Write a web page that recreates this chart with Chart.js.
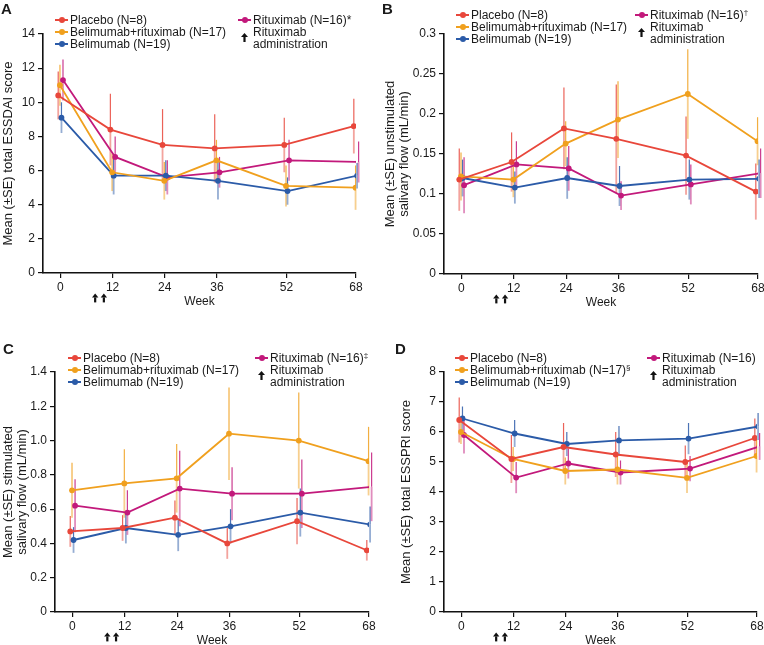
<!DOCTYPE html>
<html>
<head>
<meta charset="utf-8">
<script src="https://cdn.jsdelivr.net/npm/chart.js@4/dist/chart.umd.min.js"></script>
<style>
  body { margin: 0; width: 764px; height: 645px; overflow: hidden; background: #fff; position: relative;
         font-family: "Liberation Sans", Arial, sans-serif; color: #1a1a1a; }
  canvas { position: absolute; }
  .lbl { position: absolute; font-size: 12px; line-height: 14px; white-space: nowrap; }
  .lbl sup { font-size: 8px; line-height: 0; vertical-align: 4px; }
  .letter { position: absolute; font-weight: bold; font-size: 15px; line-height: 16px; }
  .mk { position: absolute; height: 2px; width: 13px; }
  .dot { position: absolute; width: 6px; height: 6px; border-radius: 50%; }
</style>
</head>
<body>
<script>
const weeks = [0, 12, 24, 36, 52, 68];
const arrowWeeks = [8, 10];
const colors = ['#e8473b', '#f0a01e', '#2b5ba8', '#c2197b'];
const jitter = [-0.5, -0.1, 0.25, 0.6];

// order: placebo, belimumab+rituximab, belimumab, rituximab
const essdaiMean = [
  [10.4, 8.4, 7.5, 7.3, 7.5, 8.6],
  [11.0, 5.9, 5.4, 6.6, 5.1, 5.0],
  [9.1, 5.7, 5.7, 5.4, 4.8, 5.7],
  [11.3, 6.8, 5.6, 5.9, 6.6, 6.5]
];
const essdaiSE = [
  [1.4, 2.1, 2.1, 2.0, 1.6, 1.6],
  [1.2, 1.1, 1.1, 1.2, 1.2, 1.3],
  [0.9, 1.1, 0.9, 1.1, 0.8, 0.75],
  [1.2, 1.2, 1.0, 0.9, 1.2, 1.2]
];
const unstimMean = [
  [0.118, 0.140, 0.182, 0.169, 0.148, 0.103],
  [0.122, 0.118, 0.163, 0.193, 0.225, 0.166],
  [0.120, 0.108, 0.120, 0.110, 0.118, 0.119],
  [0.111, 0.137, 0.132, 0.098, 0.112, 0.126]
];
const unstimSE = [
  [0.039, 0.037, 0.051, 0.068, 0.049, 0.035],
  [0.030, 0.022, 0.028, 0.048, 0.056, 0.030],
  [0.023, 0.020, 0.026, 0.025, 0.025, 0.024],
  [0.035, 0.029, 0.028, 0.018, 0.025, 0.031]
];
const stimMean = [
  [0.47, 0.49, 0.55, 0.40, 0.53, 0.36],
  [0.71, 0.75, 0.78, 1.04, 1.00, 0.88],
  [0.42, 0.49, 0.45, 0.50, 0.58, 0.51],
  [0.62, 0.58, 0.72, 0.69, 0.69, 0.73]
];
const stimSE = [
  [0.09, 0.075, 0.10, 0.09, 0.135, 0.06],
  [0.16, 0.20, 0.20, 0.27, 0.28, 0.20],
  [0.075, 0.09, 0.095, 0.10, 0.14, 0.105],
  [0.155, 0.13, 0.22, 0.155, 0.20, 0.20]
];
const esspriMean = [
  [6.4, 5.1, 5.5, 5.25, 5.0, 5.8],
  [6.0, 5.1, 4.7, 4.75, 4.47, 5.2],
  [6.45, 5.95, 5.6, 5.72, 5.78, 6.18],
  [5.9, 4.48, 4.95, 4.65, 4.78, 5.52]
];
const esspriSE = [
  [0.75, 0.8, 0.8, 0.75, 0.55, 0.65],
  [0.4, 0.4, 0.45, 0.5, 0.5, 0.55],
  [0.4, 0.45, 0.4, 0.48, 0.52, 0.45],
  [0.62, 0.52, 0.5, 0.4, 0.42, 0.45]
];

const legendA = ['Placebo (N=8)', 'Belimumab+rituximab (N=17)', 'Belimumab (N=19)', 'Rituximab (N=16)*'];
const legendB = ['Placebo (N=8)', 'Belimumab+rituximab (N=17)', 'Belimumab (N=19)', 'Rituximab (N=16)<sup>†</sup>'];
const legendC = ['Placebo (N=8)', 'Belimumab+rituximab (N=17)', 'Belimumab (N=19)', 'Rituximab (N=16)<sup>‡</sup>'];
const legendD = ['Placebo (N=8)', 'Belimumab+rituximab (N=17)<sup>§</sup>', 'Belimumab (N=19)', 'Rituximab (N=16)'];
const arrowLabel = ['Rituximab', 'administration'];

Chart.defaults.font.family = '"Liberation Sans", Arial, sans-serif';
Chart.defaults.font.size = 12;
Chart.defaults.color = '#1a1a1a';

const xAxisHeight = 36;

const errorBars = {
  id: 'errorBars',
  beforeDatasetsDraw(chart) {
    const { ctx, scales: { x, y } } = chart;
    chart.data.datasets.forEach((ds) => {
      ds.data.forEach((p, j) => {
        const px = x.getPixelForValue(p.x);
        const py = y.getPixelForValue(p.y);
        ctx.save();
        ctx.strokeStyle = ds.borderColor;
        ctx.globalAlpha = 0.85;
        ctx.lineWidth = 1.2;
        ctx.beginPath();
        ctx.moveTo(px, py);
        ctx.lineTo(px, y.getPixelForValue(p.y + ds.se[j]));
        ctx.stroke();
        ctx.globalAlpha = 0.5;
        ctx.lineWidth = 1.8;
        ctx.beginPath();
        ctx.moveTo(px, py);
        ctx.lineTo(px, y.getPixelForValue(p.y - ds.se[j]));
        ctx.stroke();
        ctx.restore();
      });
    });
  }
};

const doseArrows = {
  id: 'doseArrows',
  afterDraw(chart) {
    const { ctx, scales: { x } } = chart;
    const py = chart.chartArea.bottom + 25;
    ctx.save();
    ctx.fillStyle = '#111';
    arrowWeeks.forEach((w) => {
      const px = x.getPixelForValue(w);
      ctx.beginPath();
      ctx.moveTo(px, py - 4.5);
      ctx.lineTo(px + 3.2, py - 0.5);
      ctx.lineTo(px - 3.2, py - 0.5);
      ctx.closePath();
      ctx.fill();
      ctx.fillRect(px - 1.1, py - 0.6, 2.2, 5);
    });
    ctx.restore();
  }
};

function addLabel(html, left, cy, cls) {
  const el = document.createElement('div');
  el.className = cls || 'lbl';
  el.innerHTML = html;
  el.style.left = left + 'px';
  el.style.top = (cy - 7) + 'px';
  document.body.appendChild(el);
  return el;
}

function addMarker(color, textX, cy) {
  const line = document.createElement('div');
  line.className = 'mk';
  line.style.background = color;
  line.style.left = (textX - 15) + 'px';
  line.style.top = (cy - 1) + 'px';
  document.body.appendChild(line);
  const dot = document.createElement('div');
  dot.className = 'dot';
  dot.style.background = color;
  dot.style.left = (textX - 11.5) + 'px';
  dot.style.top = (cy - 3) + 'px';
  document.body.appendChild(dot);
}

function addArrowIcon(cx, cy) {
  const el = document.createElement('div');
  el.style.position = 'absolute';
  el.style.left = (cx - 3.5) + 'px';
  el.style.top = (cy - 4.5) + 'px';
  el.innerHTML = '<svg width="7" height="9"><path d="M3.5 0 L7 4 L4.6 4 L4.6 9 L2.4 9 L2.4 4 L0 4 Z" fill="#111"/></svg>';
  document.body.appendChild(el);
}

function renderLegend(names, leftX, rightX, rows) {
  for (let i = 0; i < 3; i++) {
    addMarker(colors[i], leftX, rows[i]);
    addLabel(names[i], leftX, rows[i]);
  }
  addMarker(colors[3], rightX, rows[0]);
  addLabel(names[3], rightX, rows[0]);
  addArrowIcon(rightX - 8.5, rows[1]);
  addLabel(arrowLabel[0], rightX, rows[1]);
  addLabel(arrowLabel[1], rightX, rows[2]);
}

function renderPanel(cfg) {
  const canvas = document.createElement('canvas');
  canvas.width = cfg.w;
  canvas.height = cfg.h;
  canvas.style.left = cfg.x + 'px';
  canvas.style.top = cfg.y + 'px';
  document.body.appendChild(canvas);

  const yWidth = cfg.area.left - cfg.x;
  const padTop = cfg.area.top - cfg.y;
  const padRight = cfg.w - (cfg.area.right - cfg.x);
  const padBottom = cfg.h - (cfg.area.bottom - cfg.y) - xAxisHeight;

  const datasets = cfg.mean.map((vals, i) => ({
    label: 'g' + i,
    data: weeks.map((w, j) => ({ x: w + jitter[i], y: vals[j] })),
    se: cfg.se[i],
    borderColor: colors[i],
    backgroundColor: colors[i],
    borderWidth: 1.8,
    pointRadius: 2.9,
    pointHoverRadius: 2.9,
    pointBorderWidth: 0,
    tension: 0
  }));

  const axisGrid = { display: true, drawOnChartArea: false, drawTicks: true, tickLength: 5, color: '#111', lineWidth: 1.2 };
  const axisBorder = { display: true, color: '#111', width: 1.6 };

  new Chart(canvas, {
    type: 'line',
    data: { datasets },
    options: {
      responsive: false,
      animation: false,
      layout: { padding: { top: padTop, left: 0, right: padRight, bottom: padBottom } },
      plugins: { legend: { display: false }, tooltip: { enabled: false } },
      scales: {
        x: {
          type: 'linear',
          min: -4,
          max: 68,
          afterBuildTicks: (s) => { s.ticks = weeks.map((v) => ({ value: v })); },
          afterFit: (s) => { s.height = xAxisHeight; },
          grid: axisGrid,
          border: axisBorder,
          ticks: { padding: 2, maxRotation: 0, autoSkip: false },
          title: { display: true, text: 'Week', padding: { top: 0, bottom: 0 } }
        },
        y: {
          min: 0,
          max: cfg.yMax,
          afterFit: (s) => { s.width = yWidth; },
          grid: axisGrid,
          border: axisBorder,
          ticks: { stepSize: cfg.yStep, padding: 3, callback: cfg.fmt },
          title: {
            display: true, text: cfg.title,
            font: { size: 13, lineHeight: 1.1 },
            padding: { top: cfg.titlePad, bottom: 0 }
          }
        }
      }
    },
    plugins: [errorBars, doseArrows]
  });
}

renderPanel({
  x: 0, y: 0, w: 382, h: 322,
  area: { left: 43, right: 356, top: 34, bottom: 273 },
  mean: essdaiMean, se: essdaiSE, yMax: 14, yStep: 2,
  fmt: (v) => v, title: 'Mean (±SE) total ESSDAI score', titlePad: 1
});
renderPanel({
  x: 382, y: 0, w: 420, h: 322,
  area: { left: 444, right: 758, top: 34, bottom: 274 },
  mean: unstimMean, se: unstimSE, yMax: 0.3, yStep: 0.05,
  fmt: (v) => (v === 0 ? '0' : String(+v.toFixed(2))),
  title: ['Mean (±SE) unstimulated', 'salivary flow (mL/min)'], titlePad: 1
});
renderPanel({
  x: 0, y: 322, w: 382, h: 340,
  area: { left: 55, right: 369, top: 372, bottom: 612 },
  mean: stimMean, se: stimSE, yMax: 1.4, yStep: 0.2,
  fmt: (v) => (v === 0 ? '0' : v.toFixed(1)),
  title: ['Mean (±SE) stimulated', 'salivary flow (mL/min)'], titlePad: 1
});
renderPanel({
  x: 382, y: 322, w: 420, h: 340,
  area: { left: 444, right: 757, top: 372, bottom: 612 },
  mean: esspriMean, se: esspriSE, yMax: 8, yStep: 1,
  fmt: (v) => v, title: 'Mean (±SE) total ESSPRI score', titlePad: 17
});

renderLegend(legendA, 70, 253, [20, 32, 44]);
renderLegend(legendB, 471, 650, [15, 27, 39]);
renderLegend(legendC, 83, 270, [358, 370, 382]);
renderLegend(legendD, 470, 662, [358, 370, 382]);

addLabel('A', 1, 8, 'letter');
addLabel('B', 382, 8, 'letter');
addLabel('C', 3, 348, 'letter');
addLabel('D', 395, 348, 'letter');
</script>
</body>
</html>
